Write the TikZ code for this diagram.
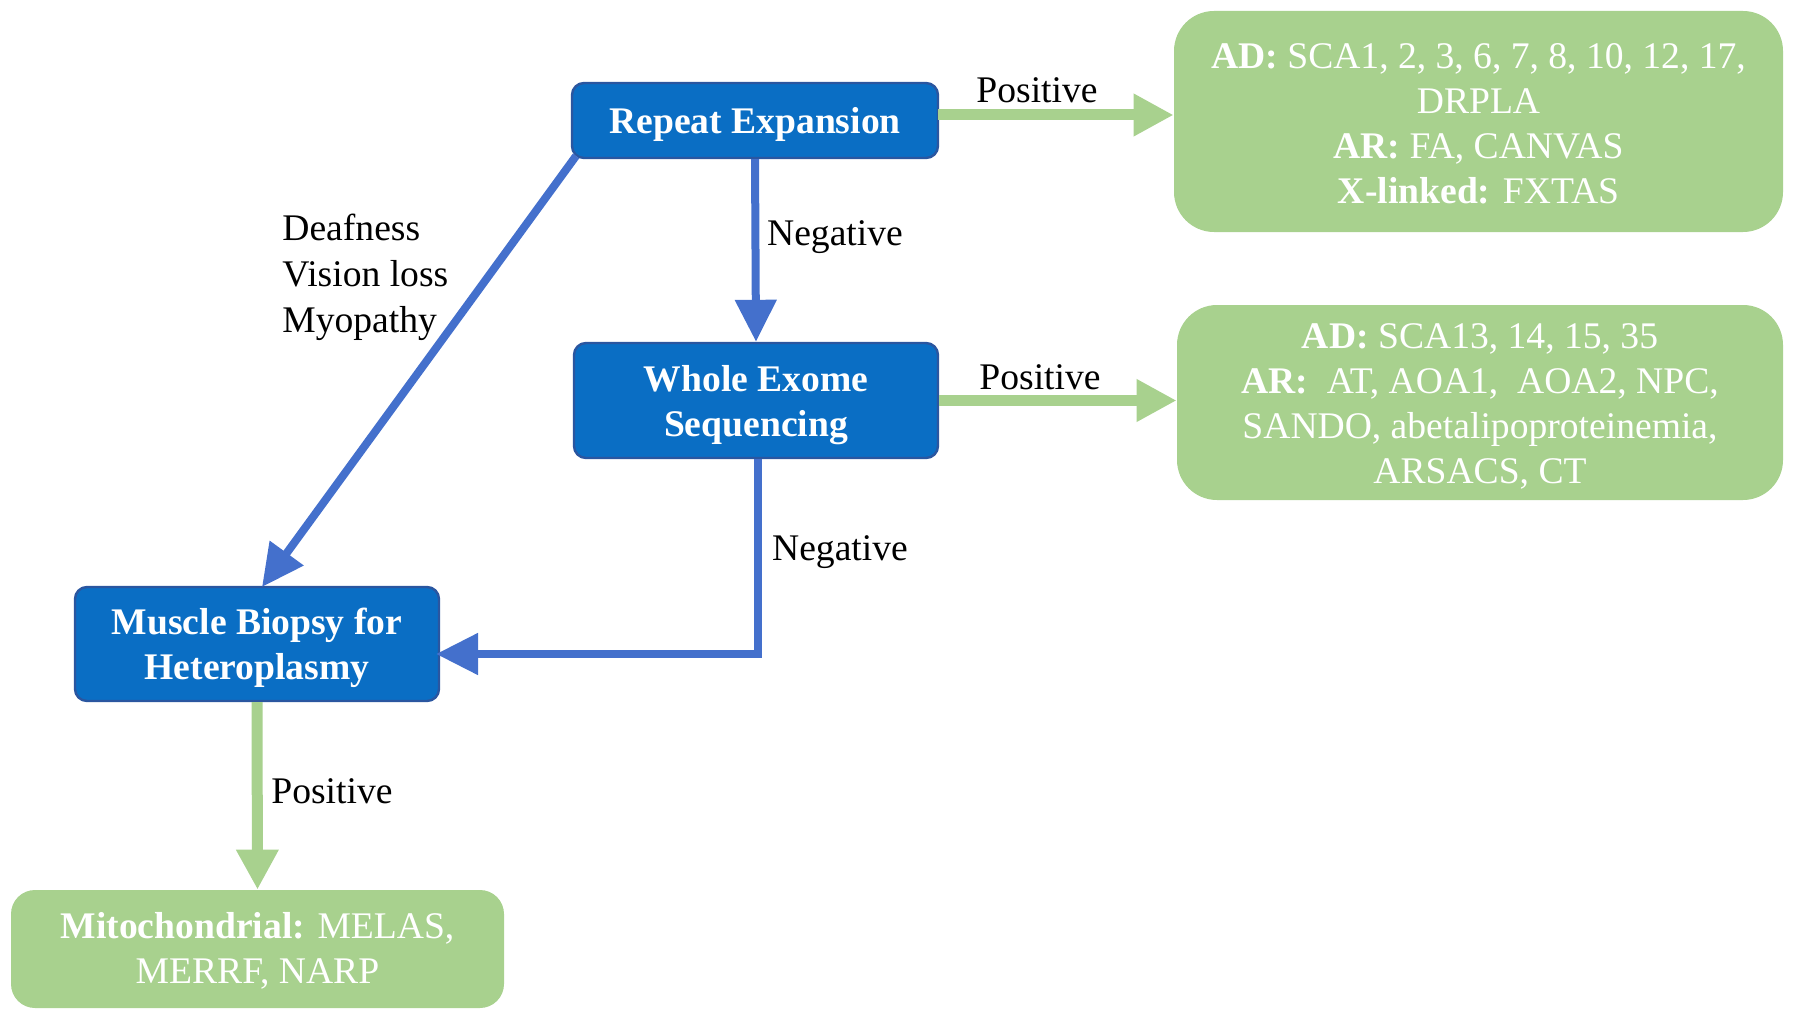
\documentclass[tikz,border=0pt]{standalone}
\usepackage{fontspec}
\setmainfont{Liberation Serif}
\usetikzlibrary{arrows.meta,positioning}
\definecolor{boxblue}{HTML}{0A6EC4}
\definecolor{edgeblue}{HTML}{2A56A0}
\definecolor{arrblue}{HTML}{4470CC}
\definecolor{boxgreen}{HTML}{A8D18E}
\newcommand\myuplift[1]{\rule{0pt}{#1}}
\tikzset{
  bluebox/.style={draw=edgeblue, line width=1.2pt, fill=boxblue, rounded corners=6pt, text=white, font=\fontsize{18.8}{22.5}\selectfont\bfseries, align=center, inner sep=0pt},
  greenbox/.style={fill=boxgreen, draw=none, rounded corners=20pt, text=white, font=\fontsize{18.8}{22.5}\selectfont, align=center, inner sep=0pt},
  barrow/.style={draw=arrblue, line width=4pt, -{Triangle[width=20pt,length=21pt]}},
  garrow/.style={draw=boxgreen, line width=5.5pt, -{Triangle[width=20pt,length=20pt]}},
  lbl/.style={font=\fontsize{18.8}{22.5}\selectfont, text=black, inner sep=0pt, align=left}
}
\begin{document}
\begin{tikzpicture}[x=0.5pt,y=-0.5pt]
\useasboundingbox (0,0) rectangle (1800,1022);
\node[bluebox, minimum width=183pt, minimum height=37.5pt] (rep) at (755,120.5) {\myuplift{17.4pt}Repeat Expansion};
\node[bluebox, minimum width=182pt, minimum height=57.5pt] (wes) at (756,400.5) {\myuplift{17.4pt}Whole Exome\\Sequencing};
\node[bluebox, minimum width=182pt, minimum height=57pt] (mus) at (257,644) {\myuplift{17.4pt}Muscle Biopsy for\\Heteroplasmy};
\node[greenbox, minimum width=304.5pt, minimum height=110.5pt] (g1) at (1478.5,121.5) {\myuplift{14.5pt}\textbf{AD:} SCA1, 2, 3, 6, 7, 8, 10, 12, 17,\\DRPLA\\\textbf{AR:} FA, CANVAS\\\textbf{X-linked:} FXTAS};
\node[greenbox, minimum width=303pt, minimum height=97.5pt] (g2) at (1480,402.5) {\myuplift{16.2pt}\textbf{AD:} SCA13, 14, 15, 35\\\textbf{AR:}\ \ AT, AOA1,\ \ AOA2, NPC,\\SANDO, abetalipoproteinemia,\\ARSACS, CT};
\node[greenbox, minimum width=246.5pt, minimum height=59pt, rounded corners=12pt] (mito) at (257.5,949) {\myuplift{15pt}\textbf{Mitochondrial:} MELAS,\\MERRF, NARP};

\coordinate (repr) at (938,115);
\draw[garrow] (repr) -- (repr -| g1.west);
\draw[garrow] (wes.east) -- (wes.east -| g2.west);
\draw[barrow] (rep.south) -- (wes.north);
\coordinate (musr) at (436,654);
\draw[barrow] ([xshift=1pt]wes.south) |- (musr);
\coordinate (dgs) at (576,156);
\coordinate (dge) at (262,587);
\draw[barrow] (dgs) -- (dge);
\draw[garrow] (mus.south) -- (mito.north);

\node[lbl] (p1) at (1037,90) {Positive};
\node[lbl] (p2) at (1040,377) {Positive};
\node[lbl] (n1) at (835,237) {Negative};
\node[lbl] (n2) at (840,552) {Negative};
\node[lbl] (p3) at (332,791) {Positive};
\node[lbl, anchor=west, font=\fontsize{18.8}{23}\selectfont] (sym) at (282,277) {Deafness\\Vision loss\\Myopathy};
\end{tikzpicture}
\end{document}
